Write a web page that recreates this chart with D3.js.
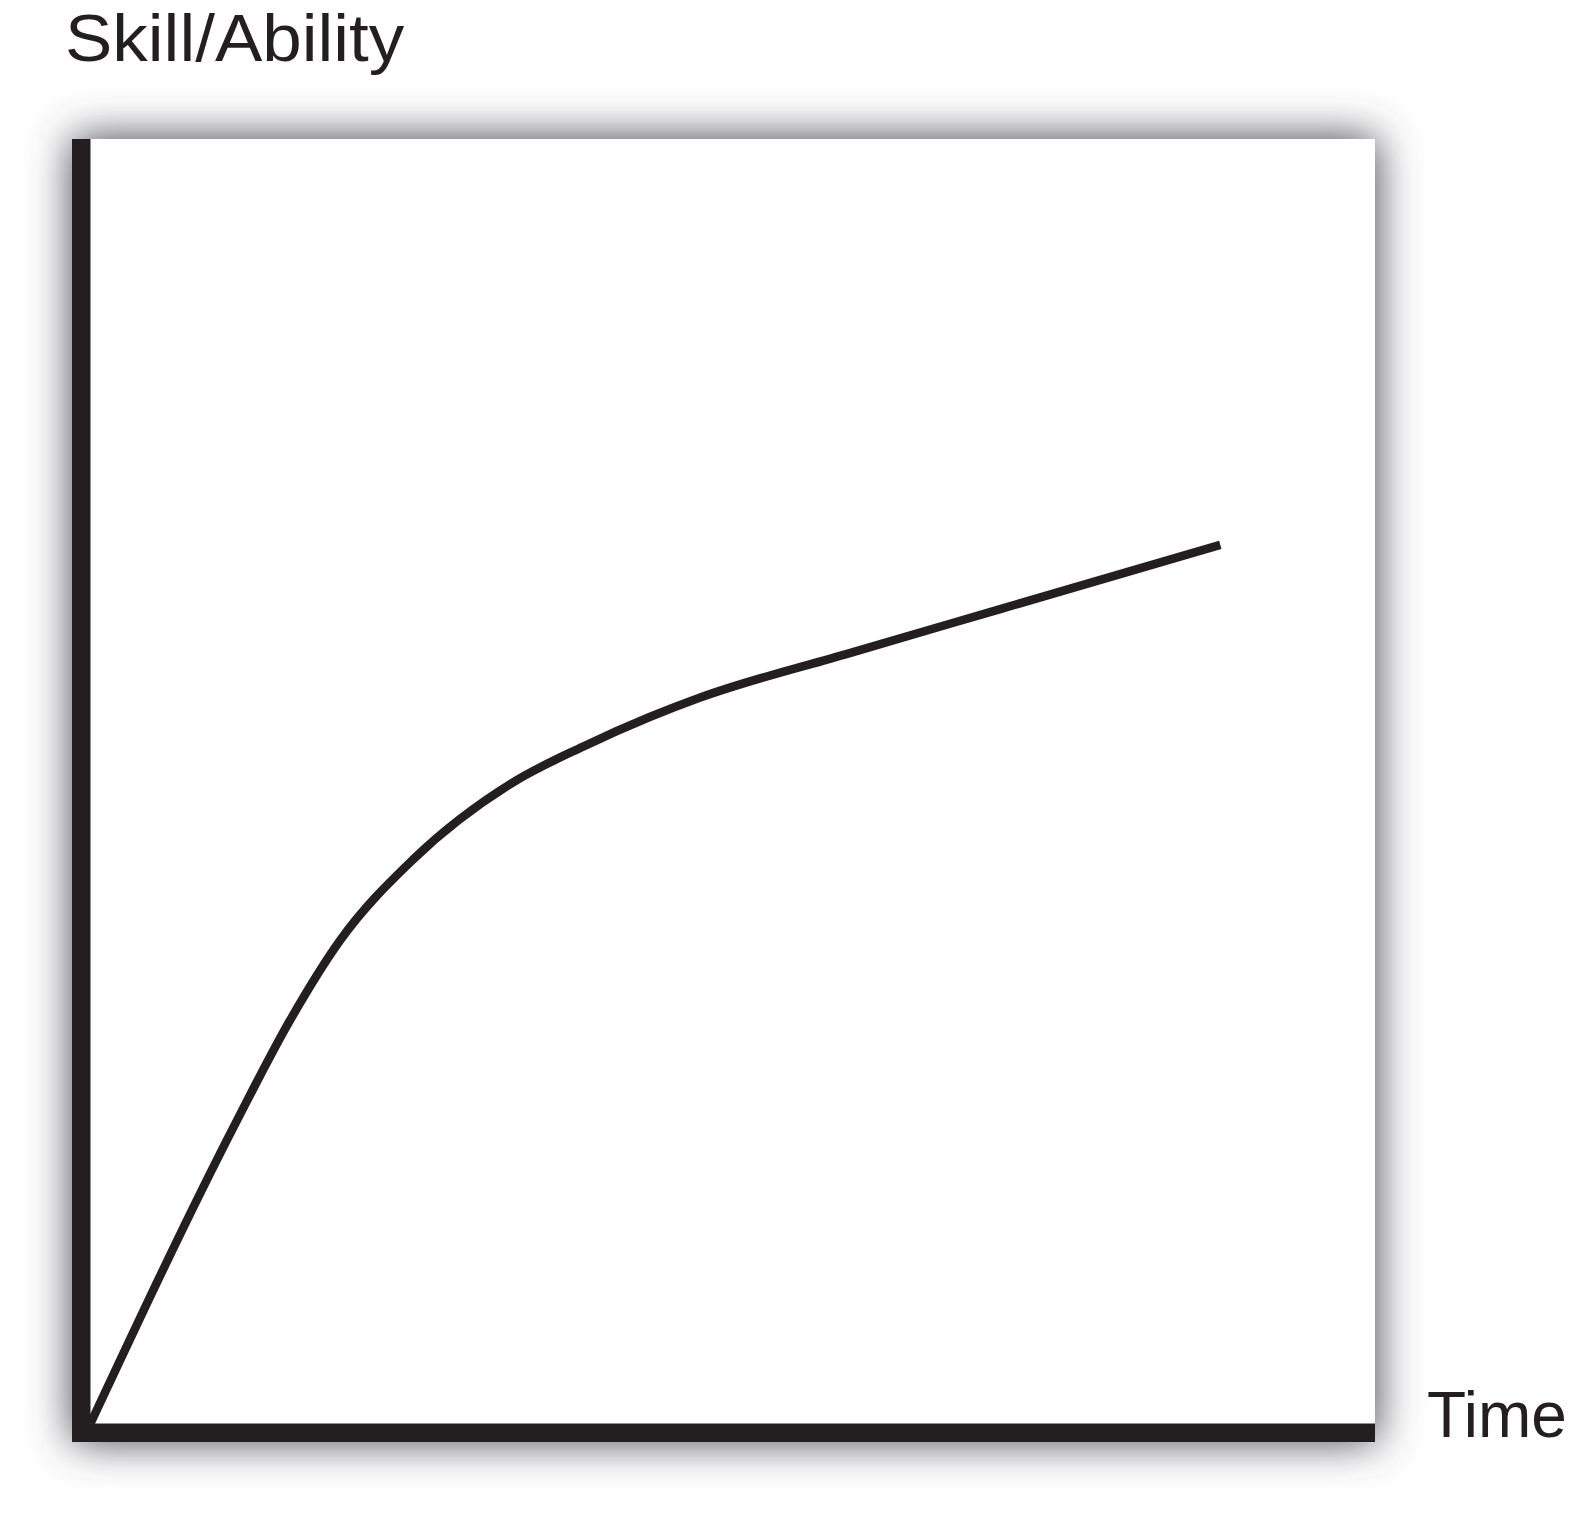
<!DOCTYPE html>
<html>
<head>
<meta charset="utf-8">
<script src="https://cdn.jsdelivr.net/npm/d3@7/dist/d3.min.js"></script>
<style>
  html, body { margin: 0; padding: 0; background: #ffffff; }
  svg { display: block; }
</style>
</head>
<body>
<script>
// ---- data ----
const timeValues  = [0, 11.45, 15.6, 19.5, 25.2, 33.0, 38.5, 43.7, 47.6, 59.4, 71.1, 88.3];
const skillValues = [0, 23.6, 31.4, 37.6, 43.9, 49.9, 52.7, 55.0, 56.5, 60.0, 63.4, 68.4];
const yAxisLabel = "Skill/Ability";
const xAxisLabel = "Time";
const domainX = [0, 100];
const domainY = [0, 100];

// ---- layout ----
const W = 1575, H = 1515;
const frame = { left: 72, top: 139, right: 1375, bottom: 1442 };
const axisW = 18.5;
const ink = "#231f20";
const font = "'Liberation Sans', Arial, sans-serif";

const svg = d3.select("body").append("svg")
  .attr("width", W).attr("height", H)
  .attr("viewBox", `0 0 ${W} ${H}`);

const x = d3.scaleLinear().domain(domainX).range([frame.left + axisW, 1370]);
const y = d3.scaleLinear().domain(domainY).range([frame.bottom - axisW, frame.top]);

// soft glow around the plot frame
const defs = svg.append("defs");
const f = defs.append("filter").attr("id", "glow")
  .attr("x", "-15%").attr("y", "-15%").attr("width", "130%").attr("height", "130%");
f.append("feGaussianBlur").attr("stdDeviation", 22);

svg.append("rect")
  .attr("x", frame.left).attr("y", frame.top - 2)
  .attr("width", frame.right - frame.left + 2)
  .attr("height", frame.bottom - frame.top + 2)
  .attr("fill", "#46474d")
  .attr("filter", "url(#glow)");

svg.append("rect")
  .attr("x", frame.left).attr("y", frame.top)
  .attr("width", frame.right - frame.left)
  .attr("height", frame.bottom - frame.top)
  .attr("fill", "#ffffff");

// curve
const pts = timeValues.map((t, i) => [t, skillValues[i]]);
const line = d3.line()
  .x(d => x(d[0])).y(d => y(d[1]))
  .curve(d3.curveMonotoneX);

svg.append("path")
  .datum(pts)
  .attr("d", line)
  .attr("fill", "none")
  .attr("stroke", ink)
  .attr("stroke-width", 8.5)
  .attr("stroke-linecap", "butt")
  .attr("stroke-linejoin", "round");

// axes (thick bars)
svg.append("line")
  .attr("x1", frame.left + axisW / 2).attr("x2", frame.left + axisW / 2)
  .attr("y1", y(domainY[1])).attr("y2", frame.bottom)
  .attr("stroke", ink).attr("stroke-width", axisW);

svg.append("line")
  .attr("x1", frame.left).attr("x2", frame.right)
  .attr("y1", y(0) + axisW / 2).attr("y2", y(0) + axisW / 2)
  .attr("stroke", ink).attr("stroke-width", axisW);

// labels
svg.append("text")
  .attr("transform", "translate(65,61) scale(1.06,1)")
  .attr("font-family", font)
  .attr("font-size", 67)
  .attr("fill", ink)
  .text(yAxisLabel);

svg.append("text")
  .attr("x", 1427).attr("y", 1437)
  .attr("font-family", font)
  .attr("font-size", 64)
  .attr("fill", ink)
  .text(xAxisLabel);
</script>
</body>
</html>
